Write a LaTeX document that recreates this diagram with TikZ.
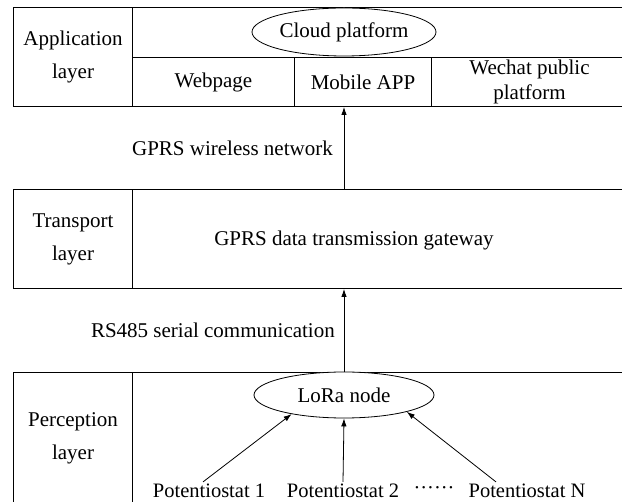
\documentclass[tikz,border=0pt]{standalone}
\usepackage{fontspec}
\setmainfont{Liberation Serif}
\usetikzlibrary{shapes}
\usetikzlibrary{positioning}
\usetikzlibrary{arrows.meta}
\tikzset{
    cellbox/.style = {rectangle, draw=black, line width=1pt, anchor=north west, inner sep=0pt, align=center, font=\fontsize{21}{25}\selectfont, text=black},
    layertext/.style = {font=\fontsize{21}{33}\selectfont},
    wordnode/.style = {align=center, inner sep=2pt, font=\fontsize{21}{25}\selectfont, text=black},
    potnode/.style = {inner sep=2pt, font=\fontsize{20.5}{24}\selectfont, text=black},
    ovalnode/.style = {ellipse, draw=black, line width=0.8pt, inner sep=0pt, fill=white, font=\fontsize{21}{25}\selectfont, text=black},
    edgea/.style = {-{Latex[length=8pt,width=5.5pt]}, line width=0.8pt, black}
}

\begin{document}
\begin{tikzpicture}[x=1pt,y=-1pt]
\useasboundingbox (0,0) rectangle (622,502);
\clip (0,0) rectangle (622,502);

% application layer
\node[cellbox, layertext, minimum width=119pt, minimum height=99pt] at (13,7) (applabel) {Application\\layer};
\node[cellbox, minimum width=495pt, minimum height=50pt] at (132,7) (cloudcell) {};
\node[cellbox, minimum width=162pt, minimum height=49pt] at (132,57) (web) {Webpage};
\node[cellbox, minimum width=137pt, minimum height=49pt] at (294,57) (mobile) {Mobile APP};
\node[cellbox, minimum width=196pt, minimum height=49pt] at (431,57) (wechat) {Wechat public\\platform};
\node[ovalnode, minimum width=184pt, minimum height=48pt] at (344,32) (cloud) {Cloud platform};

% transport layer
\node[cellbox, layertext, minimum width=119pt, minimum height=99pt] at (13,189) (translabel) {Transport\\layer};
\node[cellbox, minimum width=495pt, minimum height=99pt] at (132,189) (gate) {};
\node[wordnode] at (354,240) (gatetext) {GPRS data transmission gateway};

% perception layer
\node[cellbox, layertext, minimum width=119pt, minimum height=131pt] at (13,372) (perclabel) {Perception\\layer};
\node[cellbox, minimum width=495pt, minimum height=131pt] at (132,372) (sensing) {};
\node[ovalnode, minimum width=180pt, minimum height=46pt] at (344,395) (lora) {LoRa node};

\node[potnode] at (209,491) (pot1) {Potentiostat 1};
\node[potnode] at (343,491) (pot2) {Potentiostat 2};
\node[potnode] at (434,491) (dots) {······};
\node[potnode] at (527,491) (potn) {Potentiostat N};

% links
\node[wordnode, anchor=east] at (335,148) (gprs) {GPRS wireless network};
\node[wordnode, anchor=east] at (337,330) (rs485) {RS485 serial communication};

\draw[edgea] (gate.north -| cloud) -- (mobile.south -| cloud);
\draw[edgea] (lora.north) -- (gate.south -| lora);
\draw[edgea] ([xshift=-6pt]pot1.north) -- (lora.200);
\draw[edgea] (pot2.north) -- (lora.south);
\draw[edgea] ([xshift=-31pt]potn.north) -- (lora.345);
\end{tikzpicture}
\end{document}
